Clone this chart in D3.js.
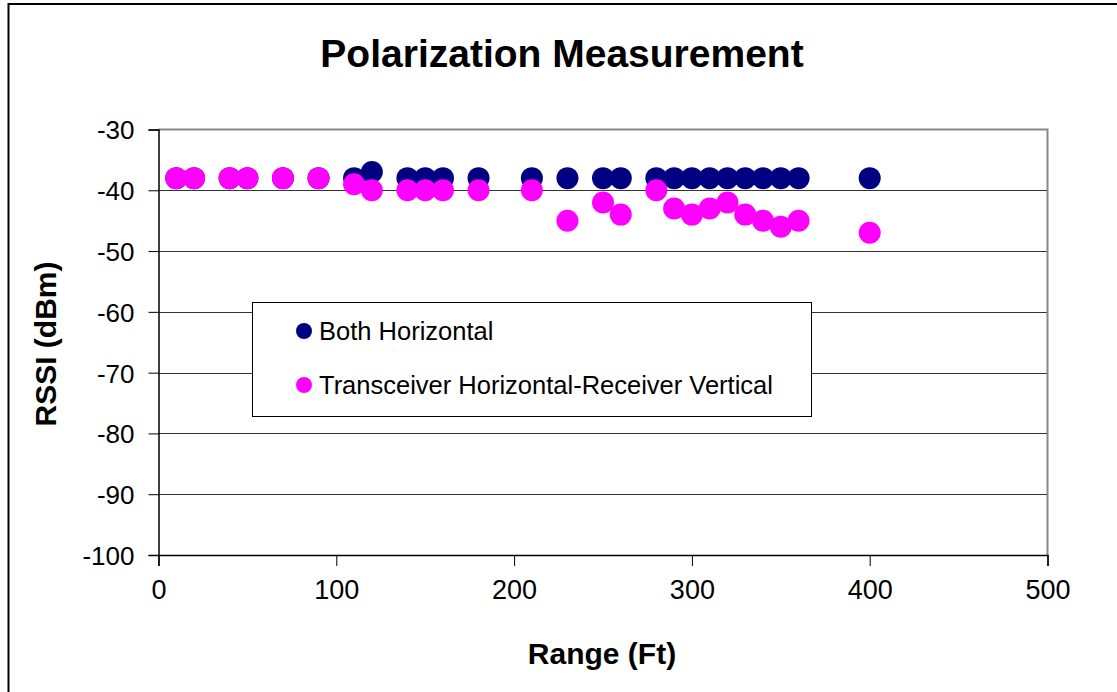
<!DOCTYPE html>
<html>
<head>
<meta charset="utf-8">
<script src="https://cdn.jsdelivr.net/npm/d3@7/dist/d3.min.js"></script>
<style>
  html, body { margin: 0; padding: 0; background: #fff; }
  svg { display: block; font-family: "Liberation Sans", Arial, sans-serif; }
</style>
</head>
<body>
<svg id="chart" width="1117" height="692"></svg>
<script>
// ---- Data ----
const rangeFt = [10, 20, 40, 50, 70, 90, 110, 120, 140, 150, 160, 180, 210, 230, 250, 260, 280, 290, 300, 310, 320, 330, 340, 350, 360, 400];
const bothHorizontal = [-38, -38, -38, -38, -38, -38, -38, -37, -38, -38, -38, -38, -38, -38, -38, -38, -38, -38, -38, -38, -38, -38, -38, -38, -38, -38];
const txHorizRxVert = [-38, -38, -38, -38, -38, -38, -39, -40, -40, -40, -40, -40, -40, -45, -42, -44, -40, -43, -44, -43, -42, -44, -45, -46, -45, -47];
const seriesNames = ["Both Horizontal", "Transceiver Horizontal-Receiver Vertical"];
const seriesColors = ["#000080", "#FF00FF"];
const xTicks = [0, 100, 200, 300, 400, 500];
const yTicks = [-30, -40, -50, -60, -70, -80, -90, -100];

const svg = d3.select("#chart");

// outer chart border
svg.append("rect").attr("x", 8.5).attr("y", 4).attr("width", 1130).attr("height", 720)
  .attr("fill", "none").attr("stroke", "#000").attr("stroke-width", 2);

const L = 158.5, R = 1047.5, T = 129.5, B = 555;
const x = d3.scaleLinear().domain([0, 500]).range([L, R]);
const y = d3.scaleLinear().domain([-100, -30]).range([B, T]);

// gridlines
svg.append("g").selectAll("line").data(yTicks.filter(v => v !== -30 && v !== -100)).join("line")
  .attr("x1", L).attr("x2", R).attr("y1", d => Math.round(y(d)) + 0.5).attr("y2", d => Math.round(y(d)) + 0.5)
  .attr("stroke", "#333").attr("stroke-width", 1);

// plot border top/right (gray)
svg.append("path").attr("d", `M${L},${T}H${R}V${B}`).attr("fill", "none")
  .attr("stroke", "#888").attr("stroke-width", 2);

const fmt = d => String(d);

// axes
const yAxis = d3.axisLeft(y).tickValues(yTicks).tickSize(10).tickPadding(14).tickFormat(fmt);
const gy = svg.append("g").attr("transform", `translate(${L},0)`).call(yAxis);
gy.select(".domain").attr("stroke", "#000").attr("stroke-width", 1.5);
gy.selectAll(".tick line").attr("stroke", "#000");
gy.selectAll(".tick text").attr("font-size", 26).attr("fill", "#000")
  .attr("font-family", "'Liberation Sans', Arial, sans-serif").attr("dy", "0.36em");

const xAxis = d3.axisBottom(x).tickValues(xTicks).tickSize(11).tickPadding(14).tickFormat(fmt);
const gx = svg.append("g").attr("transform", `translate(0,${B})`).call(xAxis);
gx.select(".domain").attr("stroke", "#000").attr("stroke-width", 1.5);
gx.selectAll(".tick line").attr("stroke", "#000");
gx.selectAll(".tick text").attr("font-size", 27).attr("fill", "#000")
  .attr("font-family", "'Liberation Sans', Arial, sans-serif");

// points
const series = [bothHorizontal, txHorizRxVert];
series.forEach((vals, si) => {
  svg.append("g").selectAll("circle").data(rangeFt.map((r, i) => [r, vals[i]])).join("circle")
    .attr("cx", d => x(d[0])).attr("cy", d => y(d[1])).attr("r", 11)
    .attr("fill", seriesColors[si]);
});

// title
svg.append("text").attr("x", 562).attr("y", 67).attr("text-anchor", "middle")
  .attr("font-size", 39).attr("font-weight", "bold").text("Polarization Measurement");

// axis titles
svg.append("text").attr("x", 602).attr("y", 664).attr("text-anchor", "middle")
  .attr("font-size", 30).attr("font-weight", "bold").text("Range (Ft)");
svg.append("text").attr("transform", "translate(56,344) rotate(-90)").attr("text-anchor", "middle")
  .attr("font-size", 30).attr("font-weight", "bold").text("RSSI (dBm)");

// legend
const lg = svg.append("g");
lg.append("rect").attr("x", 252.5).attr("y", 302.5).attr("width", 559).attr("height", 114)
  .attr("fill", "#fff").attr("stroke", "#000").attr("stroke-width", 1);
seriesNames.forEach((name, i) => {
  const cy = 331 + i * 54;
  lg.append("circle").attr("cx", 304).attr("cy", cy).attr("r", 8).attr("fill", seriesColors[i]);
  lg.append("text").attr("x", 319).attr("y", cy + 8.5).attr("font-size", 25.5).text(name);
});
</script>
</body>
</html>
